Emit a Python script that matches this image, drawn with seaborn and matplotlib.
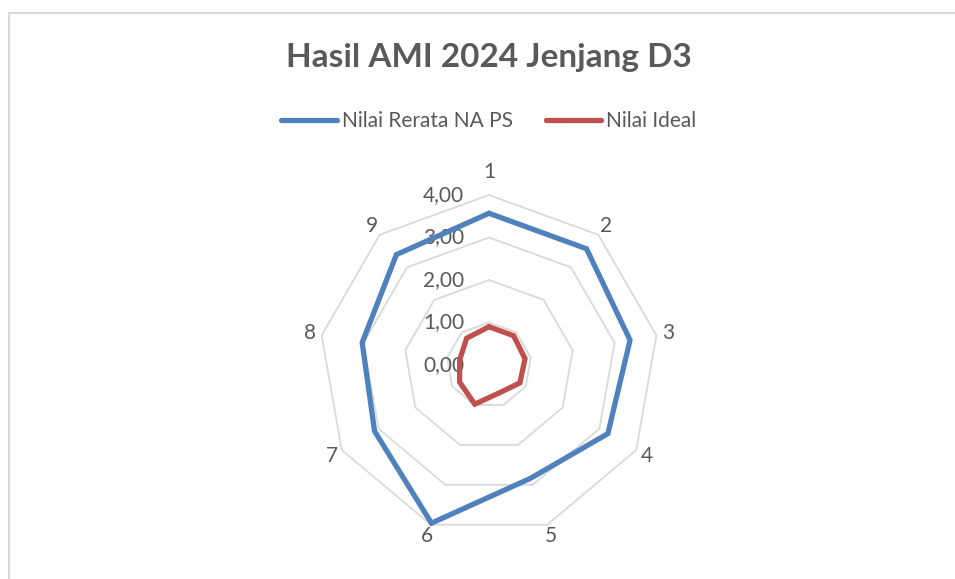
import numpy as np
import pandas as pd
import matplotlib
matplotlib.use("Agg")
import matplotlib.pyplot as plt
import seaborn as sns
from matplotlib.lines import Line2D
from matplotlib.patches import Rectangle

# data
categories = ["1", "2", "3", "4", "5", "6", "7", "8", "9"]
nilai_rerata = [3.57, 3.57, 3.37, 3.23, 2.84, 3.96, 3.11, 3.03, 3.39]
nilai_ideal = [0.90, 0.90, 0.86, 0.84, 0.70, 0.98, 0.80, 0.70, 0.82]
series_names = ["Nilai Rerata NA PS", "Nilai Ideal"]
r_ticks = [0, 1, 2, 3, 4]
r_tick_labels = ["0,00", "1,00", "2,00", "3,00", "4,00"]

blue = "#4f81bd"
red = "#c0504d"
grey_text = "#595959"
grid_col = "#d9d9d9"

sns.set_style("white")
plt.rcParams["font.family"] = ["Lato", "DejaVu Sans"]

n = len(categories)
theta = np.linspace(0, 2 * np.pi, n, endpoint=False)
theta_closed = np.append(theta, 2 * np.pi)

rows = []
for name, vals in zip(series_names, [nilai_rerata, nilai_ideal]):
    for t, v in zip(theta_closed, vals + vals[:1]):
        rows.append({"theta": t, "nilai": v, "seri": name})
df = pd.DataFrame(rows)

fig = plt.figure(figsize=(9.55, 5.79), dpi=100)
ax = fig.add_axes([319 / 955, 44 / 579, 340 / 955, 340 / 579], projection="polar")
ax.set_theta_offset(np.pi / 2)
ax.set_theta_direction(-1)

# polygon grid like excel
for r in r_ticks[1:]:
    ax.plot(theta_closed, [r] * len(theta_closed), color=grid_col, lw=1.3, zorder=1, clip_on=False)

sns.lineplot(data=df, x="theta", y="nilai", hue="seri", palette=[blue, red],
             sort=False, estimator=None, lw=3.8, legend=False, ax=ax, zorder=3)
for ln in ax.lines:
    ln.set_clip_on(False)
    ln.set_solid_joinstyle("miter")

ax.set_ylim(0, 4)
ax.set_xticks([])
ax.set_yticks([])
ax.grid(False)
ax.spines["polar"].set_visible(False)
ax.set_xlabel("")
ax.set_ylabel("")

# radial value labels
for r, lab in zip(r_ticks, r_tick_labels):
    ax.annotate(lab, xy=(0, r), xytext=(-25, 0), textcoords="offset pixels",
                ha="right", va="center", fontsize=15, color=grey_text, zorder=2)

# category labels
for i, (t, lab) in enumerate(zip(theta, categories)):
    rr = 4.53 if i == 0 else 4.28
    ax.text(t, rr, lab, ha="center", va="center", fontsize=15, color=grey_text)

fig.text(489 / 955, 1 - 57 / 579, "Hasil AMI 2024 Jenjang D3", ha="center", va="center",
         fontsize=24, fontweight="bold", color=grey_text)

handles = [Line2D([], [], color=blue, lw=3.8, solid_capstyle="round"),
           Line2D([], [], color=red, lw=3.8, solid_capstyle="round")]
fig.legend(handles, series_names, loc="center", bbox_to_anchor=(489 / 955, 1 - 121 / 579),
           ncol=2, frameon=False, fontsize=15, labelcolor=grey_text,
           handlelength=2.65, handletextpad=0.25, columnspacing=1.6)

# chart area border (top and left visible)
fig.add_artist(Rectangle((9 / 955, -0.2), 1.5, 1.2 - 13 / 579, transform=fig.transFigure,
                         fill=False, edgecolor=grid_col, lw=1.5, clip_on=False))

fig.savefig("out.png", dpi=100)
